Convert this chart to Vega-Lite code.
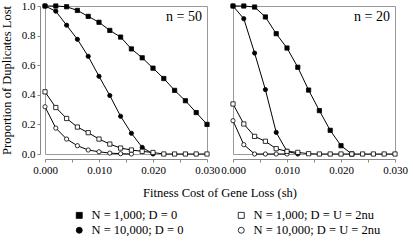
{
  "$schema": "https://vega.github.io/schema/vega-lite/v6.json",
  "padding": {"left": 0, "top": 0, "right": 0, "bottom": 0},
  "background": "white",
  "data": {"values": [
    {"panel": "n50", "kind": "pt", "series": "N = 1,000; D = 0", "x": 0.000, "y": 1.0},
    {"panel": "n50", "kind": "pt", "series": "N = 1,000; D = 0", "x": 0.002, "y": 1.0},
    {"panel": "n50", "kind": "pt", "series": "N = 1,000; D = 0", "x": 0.004, "y": 0.995},
    {"panel": "n50", "kind": "pt", "series": "N = 1,000; D = 0", "x": 0.006, "y": 0.97},
    {"panel": "n50", "kind": "pt", "series": "N = 1,000; D = 0", "x": 0.008, "y": 0.93},
    {"panel": "n50", "kind": "pt", "series": "N = 1,000; D = 0", "x": 0.010, "y": 0.89},
    {"panel": "n50", "kind": "pt", "series": "N = 1,000; D = 0", "x": 0.012, "y": 0.835},
    {"panel": "n50", "kind": "pt", "series": "N = 1,000; D = 0", "x": 0.014, "y": 0.79},
    {"panel": "n50", "kind": "pt", "series": "N = 1,000; D = 0", "x": 0.016, "y": 0.71},
    {"panel": "n50", "kind": "pt", "series": "N = 1,000; D = 0", "x": 0.018, "y": 0.65},
    {"panel": "n50", "kind": "pt", "series": "N = 1,000; D = 0", "x": 0.020, "y": 0.58},
    {"panel": "n50", "kind": "pt", "series": "N = 1,000; D = 0", "x": 0.022, "y": 0.51},
    {"panel": "n50", "kind": "pt", "series": "N = 1,000; D = 0", "x": 0.024, "y": 0.43},
    {"panel": "n50", "kind": "pt", "series": "N = 1,000; D = 0", "x": 0.026, "y": 0.36},
    {"panel": "n50", "kind": "pt", "series": "N = 1,000; D = 0", "x": 0.028, "y": 0.28},
    {"panel": "n50", "kind": "pt", "series": "N = 1,000; D = 0", "x": 0.030, "y": 0.20},

    {"panel": "n50", "kind": "pt", "series": "N = 10,000; D = 0", "x": 0.000, "y": 1.0},
    {"panel": "n50", "kind": "pt", "series": "N = 10,000; D = 0", "x": 0.002, "y": 0.965},
    {"panel": "n50", "kind": "pt", "series": "N = 10,000; D = 0", "x": 0.004, "y": 0.87},
    {"panel": "n50", "kind": "pt", "series": "N = 10,000; D = 0", "x": 0.006, "y": 0.775},
    {"panel": "n50", "kind": "pt", "series": "N = 10,000; D = 0", "x": 0.008, "y": 0.66},
    {"panel": "n50", "kind": "pt", "series": "N = 10,000; D = 0", "x": 0.010, "y": 0.525},
    {"panel": "n50", "kind": "pt", "series": "N = 10,000; D = 0", "x": 0.012, "y": 0.395},
    {"panel": "n50", "kind": "pt", "series": "N = 10,000; D = 0", "x": 0.014, "y": 0.255},
    {"panel": "n50", "kind": "pt", "series": "N = 10,000; D = 0", "x": 0.016, "y": 0.14},
    {"panel": "n50", "kind": "pt", "series": "N = 10,000; D = 0", "x": 0.018, "y": 0.045},
    {"panel": "n50", "kind": "pt", "series": "N = 10,000; D = 0", "x": 0.020, "y": 0.0},

    {"panel": "n50", "kind": "pt", "series": "N = 10,000; D = U = 2nu", "x": 0.000, "y": 0.319},
    {"panel": "n50", "kind": "pt", "series": "N = 10,000; D = U = 2nu", "x": 0.002, "y": 0.175},
    {"panel": "n50", "kind": "pt", "series": "N = 10,000; D = U = 2nu", "x": 0.004, "y": 0.101},
    {"panel": "n50", "kind": "pt", "series": "N = 10,000; D = U = 2nu", "x": 0.006, "y": 0.056},
    {"panel": "n50", "kind": "pt", "series": "N = 10,000; D = U = 2nu", "x": 0.008, "y": 0.027},
    {"panel": "n50", "kind": "pt", "series": "N = 10,000; D = U = 2nu", "x": 0.010, "y": 0.015},
    {"panel": "n50", "kind": "pt", "series": "N = 10,000; D = U = 2nu", "x": 0.012, "y": 0.006},
    {"panel": "n50", "kind": "pt", "series": "N = 10,000; D = U = 2nu", "x": 0.014, "y": 0.002},
    {"panel": "n50", "kind": "pt", "series": "N = 10,000; D = U = 2nu", "x": 0.016, "y": 0.0},

    {"panel": "n50", "kind": "pt", "series": "N = 1,000; D = U = 2nu", "x": 0.000, "y": 0.42},
    {"panel": "n50", "kind": "pt", "series": "N = 1,000; D = U = 2nu", "x": 0.002, "y": 0.314},
    {"panel": "n50", "kind": "pt", "series": "N = 1,000; D = U = 2nu", "x": 0.004, "y": 0.24},
    {"panel": "n50", "kind": "pt", "series": "N = 1,000; D = U = 2nu", "x": 0.006, "y": 0.182},
    {"panel": "n50", "kind": "pt", "series": "N = 1,000; D = U = 2nu", "x": 0.008, "y": 0.144},
    {"panel": "n50", "kind": "pt", "series": "N = 1,000; D = U = 2nu", "x": 0.010, "y": 0.101},
    {"panel": "n50", "kind": "pt", "series": "N = 1,000; D = U = 2nu", "x": 0.012, "y": 0.067},
    {"panel": "n50", "kind": "pt", "series": "N = 1,000; D = U = 2nu", "x": 0.014, "y": 0.04},
    {"panel": "n50", "kind": "pt", "series": "N = 1,000; D = U = 2nu", "x": 0.016, "y": 0.027},
    {"panel": "n50", "kind": "pt", "series": "N = 1,000; D = U = 2nu", "x": 0.018, "y": 0.018},
    {"panel": "n50", "kind": "pt", "series": "N = 1,000; D = U = 2nu", "x": 0.020, "y": 0.01},
    {"panel": "n50", "kind": "pt", "series": "N = 1,000; D = U = 2nu", "x": 0.022, "y": 0.0},
    {"panel": "n50", "kind": "pt", "series": "N = 1,000; D = U = 2nu", "x": 0.024, "y": 0.0},
    {"panel": "n50", "kind": "pt", "series": "N = 1,000; D = U = 2nu", "x": 0.026, "y": 0.0},
    {"panel": "n50", "kind": "pt", "series": "N = 1,000; D = U = 2nu", "x": 0.028, "y": 0.0},
    {"panel": "n50", "kind": "pt", "series": "N = 1,000; D = U = 2nu", "x": 0.030, "y": 0.0},

    {"panel": "n20", "kind": "pt", "series": "N = 1,000; D = 0", "x": 0.000, "y": 1.0},
    {"panel": "n20", "kind": "pt", "series": "N = 1,000; D = 0", "x": 0.002, "y": 1.0},
    {"panel": "n20", "kind": "pt", "series": "N = 1,000; D = 0", "x": 0.004, "y": 0.993},
    {"panel": "n20", "kind": "pt", "series": "N = 1,000; D = 0", "x": 0.006, "y": 0.926},
    {"panel": "n20", "kind": "pt", "series": "N = 1,000; D = 0", "x": 0.008, "y": 0.813},
    {"panel": "n20", "kind": "pt", "series": "N = 1,000; D = 0", "x": 0.010, "y": 0.716},
    {"panel": "n20", "kind": "pt", "series": "N = 1,000; D = 0", "x": 0.012, "y": 0.586},
    {"panel": "n20", "kind": "pt", "series": "N = 1,000; D = 0", "x": 0.014, "y": 0.432},
    {"panel": "n20", "kind": "pt", "series": "N = 1,000; D = 0", "x": 0.016, "y": 0.293},
    {"panel": "n20", "kind": "pt", "series": "N = 1,000; D = 0", "x": 0.018, "y": 0.16},
    {"panel": "n20", "kind": "pt", "series": "N = 1,000; D = 0", "x": 0.020, "y": 0.056},
    {"panel": "n20", "kind": "pt", "series": "N = 1,000; D = 0", "x": 0.022, "y": 0.0},

    {"panel": "n20", "kind": "pt", "series": "N = 10,000; D = 0", "x": 0.000, "y": 1.0},
    {"panel": "n20", "kind": "pt", "series": "N = 10,000; D = 0", "x": 0.002, "y": 0.914},
    {"panel": "n20", "kind": "pt", "series": "N = 10,000; D = 0", "x": 0.004, "y": 0.682},
    {"panel": "n20", "kind": "pt", "series": "N = 10,000; D = 0", "x": 0.006, "y": 0.435},
    {"panel": "n20", "kind": "pt", "series": "N = 10,000; D = 0", "x": 0.008, "y": 0.146},
    {"panel": "n20", "kind": "pt", "series": "N = 10,000; D = 0", "x": 0.010, "y": 0.018},
    {"panel": "n20", "kind": "pt", "series": "N = 10,000; D = 0", "x": 0.012, "y": 0.0},

    {"panel": "n20", "kind": "pt", "series": "N = 10,000; D = U = 2nu", "x": 0.000, "y": 0.225},
    {"panel": "n20", "kind": "pt", "series": "N = 10,000; D = U = 2nu", "x": 0.002, "y": 0.063},
    {"panel": "n20", "kind": "pt", "series": "N = 10,000; D = U = 2nu", "x": 0.004, "y": 0.0},
    {"panel": "n20", "kind": "pt", "series": "N = 10,000; D = U = 2nu", "x": 0.006, "y": 0.0},
    {"panel": "n20", "kind": "pt", "series": "N = 10,000; D = U = 2nu", "x": 0.008, "y": 0.0},
    {"panel": "n20", "kind": "pt", "series": "N = 10,000; D = U = 2nu", "x": 0.010, "y": 0.0},

    {"panel": "n20", "kind": "pt", "series": "N = 1,000; D = U = 2nu", "x": 0.000, "y": 0.338},
    {"panel": "n20", "kind": "pt", "series": "N = 1,000; D = U = 2nu", "x": 0.002, "y": 0.203},
    {"panel": "n20", "kind": "pt", "series": "N = 1,000; D = U = 2nu", "x": 0.004, "y": 0.119},
    {"panel": "n20", "kind": "pt", "series": "N = 1,000; D = U = 2nu", "x": 0.006, "y": 0.086},
    {"panel": "n20", "kind": "pt", "series": "N = 1,000; D = U = 2nu", "x": 0.008, "y": 0.036},
    {"panel": "n20", "kind": "pt", "series": "N = 1,000; D = U = 2nu", "x": 0.010, "y": 0.018},
    {"panel": "n20", "kind": "pt", "series": "N = 1,000; D = U = 2nu", "x": 0.012, "y": 0.011},
    {"panel": "n20", "kind": "pt", "series": "N = 1,000; D = U = 2nu", "x": 0.014, "y": 0.002},
    {"panel": "n20", "kind": "pt", "series": "N = 1,000; D = U = 2nu", "x": 0.016, "y": 0.0},
    {"panel": "n20", "kind": "pt", "series": "N = 1,000; D = U = 2nu", "x": 0.018, "y": 0.0},
    {"panel": "n20", "kind": "pt", "series": "N = 1,000; D = U = 2nu", "x": 0.020, "y": 0.0},
    {"panel": "n20", "kind": "pt", "series": "N = 1,000; D = U = 2nu", "x": 0.022, "y": 0.0},
    {"panel": "n20", "kind": "pt", "series": "N = 1,000; D = U = 2nu", "x": 0.024, "y": 0.0},
    {"panel": "n20", "kind": "pt", "series": "N = 1,000; D = U = 2nu", "x": 0.026, "y": 0.0},
    {"panel": "n20", "kind": "pt", "series": "N = 1,000; D = U = 2nu", "x": 0.028, "y": 0.0},
    {"panel": "n20", "kind": "pt", "series": "N = 1,000; D = U = 2nu", "x": 0.030, "y": 0.0},

    {"panel": "n50", "kind": "label", "text": "n = 50", "x": 0.030, "y": 1.0},
    {"panel": "n20", "kind": "label", "text": "n = 20", "x": 0.030, "y": 1.0}
  ]},
  "facet": {
    "column": {
      "field": "panel",
      "type": "nominal",
      "sort": ["n50", "n20"],
      "header": {
        "labels": false,
        "title": "Fitness Cost of Gene Loss (sh)",
        "titleOrient": "bottom",
        "titleFont": "Liberation Serif, Times New Roman, serif",
        "titleFontSize": 12.5,
        "titleFontWeight": "normal",
        "titleColor": "black",
        "titlePadding": 2
      }
    }
  },
  "spacing": 16,
  "bounds": "full",
  "spec": {
    "width": 162,
    "height": 148,
    "layer": [
      {
        "transform": [{"filter": "datum.kind === 'pt'"}],
        "mark": {"type": "line", "color": "black", "strokeWidth": 1},
        "encoding": {
          "x": {"field": "x", "type": "quantitative"},
          "y": {"field": "y", "type": "quantitative", "title": "Proportion of Duplicates Lost"},
          "detail": {"field": "series"}
        }
      },
      {
        "transform": [{"filter": "datum.kind === 'pt'"}],
        "mark": {"type": "point", "filled": true, "strokeWidth": 0.8, "opacity": 1, "size": 18},
        "encoding": {
          "x": {"field": "x", "type": "quantitative"},
          "y": {"field": "y", "type": "quantitative", "title": "Proportion of Duplicates Lost"},
          "shape": {
            "field": "series", "type": "nominal", "title": null,
            "scale": {
              "domain": ["N = 1,000; D = 0", "N = 10,000; D = 0", "N = 1,000; D = U = 2nu", "N = 10,000; D = U = 2nu"],
              "range": ["square", "circle", "square", "circle"]
            }
          },
          "fill": {
            "field": "series", "type": "nominal", "title": null,
            "scale": {
              "domain": ["N = 1,000; D = 0", "N = 10,000; D = 0", "N = 1,000; D = U = 2nu", "N = 10,000; D = U = 2nu"],
              "range": ["black", "black", "white", "white"]
            }
          },
          "stroke": {
            "field": "series", "type": "nominal", "title": null,
            "scale": {
              "domain": ["N = 1,000; D = 0", "N = 10,000; D = 0", "N = 1,000; D = U = 2nu", "N = 10,000; D = U = 2nu"],
              "range": ["black", "black", "black", "black"]
            }
          }
        }
      },
      {
        "transform": [{"filter": "datum.kind === 'label'"}],
        "mark": {"type": "text", "align": "right", "baseline": "top", "dx": -5, "dy": 4, "font": "Liberation Serif, Times New Roman, serif", "fontSize": 14, "color": "black"},
        "encoding": {
          "x": {"field": "x", "type": "quantitative"},
          "y": {"field": "y", "type": "quantitative", "title": "Proportion of Duplicates Lost"},
          "text": {"field": "text"}
        }
      }
    ]
  },
  "config": {
    "font": "Liberation Serif, Times New Roman, serif",
    "view": {"stroke": "#999999", "strokeWidth": 1},
    "axisX": {
      "title": null,
      "grid": false,
      "values": [0, 0.005, 0.01, 0.015, 0.02, 0.025, 0.03],
      "labelExpr": "round(datum.value * 1000) % 10 === 0 ? format(datum.value, '.3f') : ''",
      "labelFont": "Liberation Serif, Times New Roman, serif",
      "labelFontSize": 11,
      "labelColor": "black",
      "domainColor": "#888888",
      "tickColor": "#888888",
      "tickSize": 3,
      "labelPadding": 2,
      "labelFlush": false
    },
    "axisY": {
      "grid": false,
      "values": [0, 0.2, 0.4, 0.6, 0.8, 1.0],
      "format": ".1f",
      "labelFont": "Liberation Serif, Times New Roman, serif",
      "labelFontSize": 11,
      "labelColor": "black",
      "titleFont": "Liberation Serif, Times New Roman, serif",
      "titleFontSize": 12.5,
      "titleFontWeight": "normal",
      "titleColor": "black",
      "titlePadding": 8,
      "domainColor": "#888888",
      "tickColor": "#888888",
      "tickSize": 3,
      "labelPadding": 2
    },
    "legend": {
      "orient": "none",
      "legendX": 28,
      "legendY": 203,
      "columns": 2,
      "columnPadding": 51,
      "rowPadding": 2,
      "labelFont": "Liberation Serif, Times New Roman, serif",
      "labelFontSize": 12.5,
      "labelColor": "black",
      "symbolSize": 36,
      "symbolStrokeWidth": 0.8,
      "labelOffset": 6
    }
  }
}
